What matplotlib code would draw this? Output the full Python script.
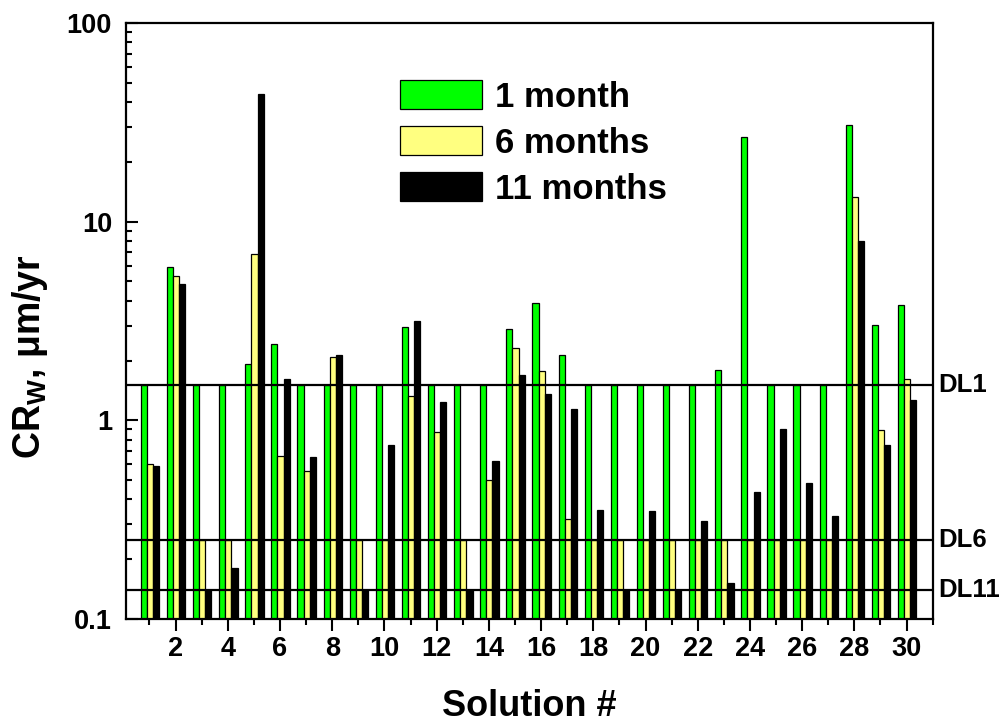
import numpy as np
import matplotlib
matplotlib.use("Agg")
import matplotlib.pyplot as plt
from matplotlib.ticker import FixedLocator, FixedFormatter, LogLocator, NullFormatter

plt.rcParams['font.family'] = ['Liberation Sans', 'DejaVu Sans']
plt.rcParams['font.weight'] = 'bold'
plt.rcParams['mathtext.fontset'] = 'custom'
plt.rcParams['mathtext.rm'] = 'Liberation Sans:bold'
plt.rcParams['mathtext.it'] = 'Liberation Sans:bold'
plt.rcParams['mathtext.bf'] = 'Liberation Sans:bold'

solutions = list(range(1, 31))
series_labels = ["1 month", "6 months", "11 months"]
month1 = [1.5, 5.93, 1.5, 1.5, 1.92, 2.43, 1.5, 1.5, 1.5, 1.5,
          2.96, 1.5, 1.5, 1.5, 2.87, 3.91, 2.14, 1.5, 1.5, 1.5,
          1.5, 1.5, 1.79, 26.7, 1.5, 1.5, 1.5, 30.6, 3.03, 3.82]
month6 = [0.60, 5.34, 0.25, 0.25, 6.87, 0.661, 0.557, 2.09, 0.25, 0.25,
          1.33, 0.877, 0.25, 0.50, 2.32, 1.77, 0.32, 0.25, 0.25, 0.25,
          0.25, 0.25, 0.25, 0.25, 0.25, 0.25, 0.25, 13.3, 0.891, 1.62]
month11 = [0.59, 4.83, 0.14, 0.181, 44.0, 1.61, 0.651, 2.13, 0.14, 0.751,
           3.15, 1.23, 0.14, 0.624, 1.70, 1.35, 1.14, 0.352, 0.14, 0.35,
           0.14, 0.313, 0.151, 0.434, 0.907, 0.482, 0.331, 7.99, 0.748, 1.26]
dl_values = [1.5, 0.25, 0.14]
dl_labels = ["DL1", "DL6", "DL11"]
colors = ["#00FF00", "#FFFF80", "#000000"]

fig = plt.figure(figsize=(10.06, 7.24), dpi=100)
ax = fig.add_axes([126/1006, 1-619/724, (932.7-126)/1006, (619-23)/724])

x = np.array(solutions, dtype=float)
w = 0.235
shift = 0.02
for i, (vals, c, lab) in enumerate(zip([month1, month6, month11], colors, series_labels)):
    ax.bar(x + (i-1)*w + shift, np.array(vals) - 0.1, width=w, bottom=0.1,
           color=c, edgecolor='black', linewidth=0.9, label=lab, zorder=2)

for v, lab in zip(dl_values, dl_labels):
    ax.axhline(v, color='black', linewidth=1.6, zorder=3)
    ax.text(1.007, v, lab, transform=ax.get_yaxis_transform(), ha='left', va='center',
            fontsize=18.5, fontweight='bold')

ax.set_yscale('log')
ax.set_ylim(0.1, 100)
ax.set_xlim(0.1, 31)

ax.yaxis.set_major_locator(FixedLocator([0.1, 1, 10, 100]))
ax.yaxis.set_major_formatter(FixedFormatter(["0.1", "1", "10", "100"]))
ax.yaxis.set_minor_locator(LogLocator(base=10, subs=np.arange(2, 10)))
ax.yaxis.set_minor_formatter(NullFormatter())

ax.xaxis.set_major_locator(FixedLocator(list(range(2, 31, 2))))
ax.xaxis.set_minor_locator(FixedLocator(list(range(1, 32, 2))))

ax.tick_params(axis='y', which='major', direction='in', length=8.6, width=1.5, pad=10, labelsize=19.5)
ax.tick_params(axis='y', which='minor', direction='in', length=4.3, width=1.5)
ax.tick_params(axis='x', which='major', direction='out', length=8.6, width=1.5, pad=4, labelsize=19.5)
ax.tick_params(axis='x', which='minor', direction='out', length=4.5, width=1.5)
for s in ax.spines.values():
    s.set_linewidth(1.6)

ax.set_xlabel("Solution #", fontsize=26, fontweight='bold', labelpad=19)
ax.set_ylabel(r"CR$_\mathrm{W}$, μm/yr", fontsize=27, fontweight='bold', labelpad=14)
ax.yaxis.set_label_coords(-0.094, 0.44)

leg = ax.legend(loc='upper left', bbox_to_anchor=(400/1006, 1-80/724),
                bbox_transform=fig.transFigure, frameon=False, borderpad=0,
                borderaxespad=0, handlelength=2.36, handleheight=0.92,
                handletextpad=0.37, labelspacing=0.36, prop={'size': 25, 'weight': 'bold'})

fig.savefig("out.png", dpi=100)
